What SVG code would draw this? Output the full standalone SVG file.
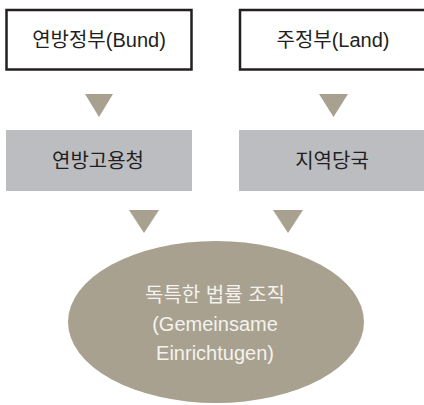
<svg xmlns="http://www.w3.org/2000/svg" width="424" height="405" viewBox="0 0 424 405">
<style>
.t{font-family:"Liberation Sans","Noto Sans CJK KR",sans-serif;font-size:20px;text-anchor:middle;fill:#231f20}
.w{fill:#f4f2ee}
.box{fill:#fff;stroke:#231f20;stroke-width:2.5}
.gray{fill:#bcbdc0}
.arr{fill:#a8a190}
</style>
<rect width="424" height="405" fill="#fff"/>
<g id="bund"><rect class="box" x="6.5" y="10" width="185" height="59.5"/><text class="t" x="99" y="47">연방정부(Bund)</text></g>
<g id="land"><rect class="box" x="240" y="10" width="190" height="59.5"/><text class="t" x="333" y="47">주정부(Land)</text></g>
<g id="ba"><rect class="gray" x="6" y="130" width="186" height="61"/><text class="t" x="98" y="168">연방고용청</text></g>
<g id="local"><rect class="gray" x="239" y="130" width="185" height="61"/><text class="t" x="332" y="168">지역당국</text></g>
<g id="connectors">
<polygon class="arr" points="85,94 113,94 99,117"/>
<polygon class="arr" points="319,94 348,94 333.5,117"/>
<polygon class="arr" points="129,210 159,210 144,233"/>
<polygon class="arr" points="273,210 303,210 288,233"/>
</g>
<g id="joint"><ellipse cx="216" cy="322" rx="148" ry="81" fill="#a8a190"/>
<text class="t w" x="215" y="302">독특한 법률 조직</text>
<text class="t w" x="215" y="331">(Gemeinsame</text>
<text class="t w" x="215" y="360">Einrichtugen)</text></g>
</svg>
